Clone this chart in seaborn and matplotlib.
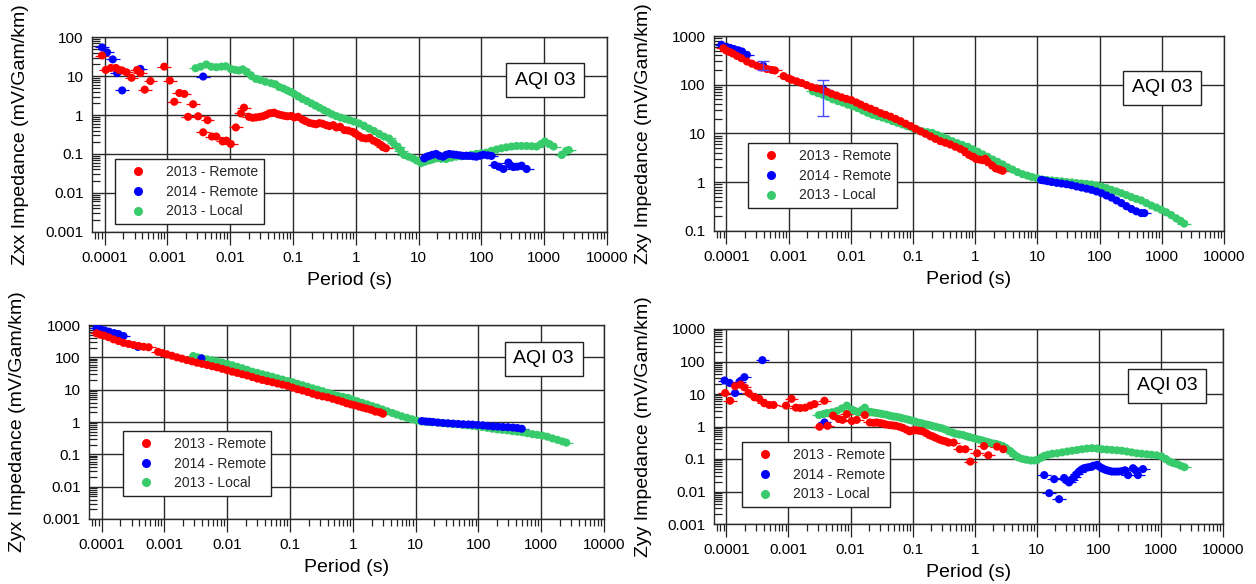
import numpy as np
import pandas as pd
import matplotlib
matplotlib.use("Agg")
import matplotlib.pyplot as plt
import seaborn as sns
from matplotlib.lines import Line2D
from matplotlib.ticker import FixedLocator, FixedFormatter, LogLocator, NullFormatter

# ---------------- data: (log10 period [s], impedance [mV/Gam/km]) ----------------
series_names = ["2013 - Remote", "2014 - Remote", "2013 - Local"]
series_colors = ["#ff0000", "#0000ff", "#38cb6b"]

zxx_red = [(-4.04, 34), (-3.98, 14.5), (-3.90, 16.3), (-3.82, 16.3), (-3.77, 14.5), (-3.72, 14),
           (-3.65, 12.6), (-3.57, 9.1), (-3.48, 14.5), (-3.43, 12), (-3.36, 4.5), (-3.27, 7.5),
           (-3.05, 17.6), (-2.96, 7.7), (-2.89, 2.2), (-2.81, 3.7), (-2.73, 3.5), (-2.67, 0.9),
           (-2.59, 1.9), (-2.51, 0.93), (-2.43, 0.36), (-2.36, 0.74), (-2.29, 0.28), (-2.22, 0.28),
           (-2.12, 0.21), (-2.06, 0.22), (-1.99, 0.18), (-1.91, 0.48), (-1.83, 1.1), (-1.78, 1.55),
           (-1.70, 0.9), (-1.64, 0.85), (-1.59, 0.87), (-1.53, 0.9), (-1.48, 0.93), (-1.43, 1.0),
           (-1.38, 1.1), (-1.34, 1.12), (-1.30, 1.15), (-1.24, 1.05), (-1.19, 1.0), (-1.14, 0.96),
           (-1.09, 0.93), (-1.03, 0.95), (-0.98, 0.87), (-0.92, 0.9), (-0.85, 0.77), (-0.80, 0.7),
           (-0.74, 0.63), (-0.68, 0.6), (-0.63, 0.58), (-0.58, 0.62), (-0.53, 0.6), (-0.47, 0.55),
           (-0.42, 0.52), (-0.36, 0.55), (-0.31, 0.48), (-0.25, 0.5), (-0.18, 0.41), (-0.12, 0.4),
           (-0.05, 0.37), (0.00, 0.33), (0.05, 0.29), (0.10, 0.26), (0.16, 0.25), (0.22, 0.26),
           (0.28, 0.22), (0.35, 0.195), (0.40, 0.17), (0.43, 0.15), (0.48, 0.14)]
zxx_blue = [(-4.04, 55), (-3.96, 41), (-3.87, 27), (-3.80, 12), (-3.72, 4.3), (-3.43, 15.4),
            (-2.43, 9.8),
            (1.09, 0.077), (1.13, 0.085), (1.17, 0.089), (1.22, 0.095), (1.28, 0.1), (1.33, 0.09),
            (1.39, 0.085), (1.44, 0.095), (1.49, 0.1), (1.55, 0.097), (1.60, 0.095), (1.66, 0.092),
            (1.71, 0.089), (1.76, 0.09), (1.81, 0.089), (1.87, 0.087), (1.92, 0.085), (1.98, 0.09),
            (2.03, 0.095), (2.10, 0.092), (2.16, 0.089), (2.21, 0.052), (2.28, 0.047), (2.35, 0.041),
            (2.43, 0.06), (2.47, 0.05), (2.51, 0.046), (2.57, 0.047), (2.64, 0.05), (2.72, 0.041)]
zxx_green = [(-2.55, 16), (-2.47, 17.6), (-2.38, 20), (-2.30, 17.5), (-2.22, 17), (-2.14, 17.6),
             (-2.07, 18), (-1.99, 15.4), (-1.92, 14.5), (-1.86, 14), (-1.80, 15), (-1.74, 13),
             (-1.67, 10.5), (-1.59, 8.5), (-1.52, 8), (-1.44, 7.2), (-1.35, 6.6), (-1.28, 6.2),
             (-1.22, 5.25), (-1.15, 4.8), (-1.09, 4.3), (-1.03, 3.9), (-0.98, 3.5), (-0.91, 3.0),
             (-0.85, 2.6), (-0.78, 2.3), (-0.71, 2.0), (-0.64, 1.75), (-0.58, 1.55), (-0.51, 1.35),
             (-0.45, 1.2), (-0.38, 1.05), (-0.31, 0.94), (-0.24, 0.86), (-0.17, 0.8), (-0.10, 0.74),
             (-0.03, 0.68), (0.05, 0.61), (0.13, 0.53), (0.21, 0.45), (0.29, 0.39), (0.37, 0.33),
             (0.45, 0.28), (0.53, 0.25), (0.60, 0.19), (0.67, 0.15), (0.72, 0.12), (0.77, 0.094),
             (0.84, 0.085), (0.91, 0.077), (0.97, 0.068), (1.04, 0.058), (1.10, 0.063), (1.17, 0.068),
             (1.22, 0.072), (1.28, 0.077), (1.36, 0.075), (1.44, 0.074), (1.52, 0.08), (1.60, 0.085),
             (1.68, 0.087), (1.76, 0.089), (1.84, 0.095), (1.92, 0.1), (2.00, 0.104), (2.08, 0.108),
             (2.16, 0.12), (2.24, 0.13), (2.32, 0.14), (2.40, 0.148), (2.48, 0.155), (2.56, 0.16),
             (2.64, 0.16), (2.72, 0.16), (2.80, 0.158), (2.88, 0.155), (2.95, 0.18), (3.01, 0.21),
             (3.08, 0.18), (3.15, 0.155), (3.28, 0.094), (3.35, 0.12), (3.39, 0.126)]

zxy_red = [(-4.05, 560), (-4.00, 500), (-3.95, 470), (-3.90, 440), (-3.83, 390), (-3.76, 350),
           (-3.67, 300), (-3.59, 270), (-3.51, 245), (-3.43, 225), (-3.35, 210), (-3.27, 200),
           (-3.22, 196), (-3.08, 150), (-3.00, 135), (-2.95, 126), (-2.87, 117), (-2.79, 108),
           (-2.71, 98), (-2.63, 89), (-2.55, 84), (-2.47, 79), (-2.39, 72), (-2.31, 65), (-2.23, 60),
           (-2.15, 55), (-2.07, 51), (-1.99, 48), (-1.91, 43), (-1.84, 39), (-1.76, 35), (-1.68, 32),
           (-1.60, 29), (-1.52, 26), (-1.44, 24), (-1.36, 22), (-1.28, 19.8), (-1.20, 17.8),
           (-1.12, 15.8), (-1.04, 14.1), (-0.96, 12.4), (-0.88, 11), (-0.80, 9.8), (-0.72, 8.7),
           (-0.64, 7.7), (-0.56, 6.9), (-0.48, 6.4), (-0.40, 5.9), (-0.32, 5.3), (-0.24, 4.8),
           (-0.17, 4.3), (-0.10, 3.6), (-0.03, 3.3), (0.01, 3.0), (0.06, 2.9), (0.12, 2.8),
           (0.16, 3.0), (0.20, 2.6), (0.27, 2.2), (0.33, 1.9), (0.39, 1.8), (0.44, 1.7)]
zxy_blue = [(-4.08, 660), (-4.00, 600), (-3.94, 570), (-3.88, 540), (-3.81, 510), (-3.75, 480),
            (-3.67, 410), (-3.41, 245), (-2.44, 80),
            (1.06, 1.1), (1.10, 1.08), (1.16, 1.04), (1.23, 1.0), (1.31, 0.96), (1.39, 0.93),
            (1.47, 0.9), (1.55, 0.86), (1.63, 0.81), (1.71, 0.77), (1.79, 0.73), (1.87, 0.69),
            (1.95, 0.64), (2.03, 0.59), (2.11, 0.53), (2.19, 0.48), (2.27, 0.42), (2.35, 0.37),
            (2.43, 0.32), (2.51, 0.28), (2.59, 0.25), (2.67, 0.23), (2.72, 0.23)]
zxy_blue_errbars = [(-3.41, 196, 300), (-2.44, 22.5, 126)]   # (log10 T, low, high)
zxy_green = [(-2.61, 73), (-2.53, 67), (-2.45, 62), (-2.37, 56), (-2.29, 50), (-2.21, 46),
             (-2.13, 43), (-2.05, 39), (-1.97, 36), (-1.89, 33), (-1.81, 29.5), (-1.73, 26.5),
             (-1.65, 24), (-1.57, 22.5), (-1.49, 21), (-1.41, 19.5), (-1.33, 17.8), (-1.25, 16.5),
             (-1.17, 15.2), (-1.09, 14), (-1.01, 12.9), (-0.93, 11.8), (-0.85, 11), (-0.77, 10.6),
             (-0.69, 10.2), (-0.61, 9.3), (-0.53, 8.5), (-0.45, 7.7), (-0.37, 6.9), (-0.29, 6.3),
             (-0.21, 5.8), (-0.12, 5.3), (-0.04, 4.7), (0.04, 4.2), (0.12, 3.7), (0.20, 3.3),
             (0.28, 2.9), (0.36, 2.6), (0.44, 2.3), (0.52, 2.0), (0.60, 1.8), (0.68, 1.6),
             (0.76, 1.45), (0.84, 1.35), (0.91, 1.27), (0.99, 1.2), (1.07, 1.13), (1.15, 1.1),
             (1.23, 1.08), (1.31, 1.05), (1.39, 1.03), (1.47, 1.0), (1.55, 0.98), (1.63, 0.95),
             (1.71, 0.93), (1.79, 0.91), (1.87, 0.89), (1.95, 0.85), (2.03, 0.81), (2.11, 0.75),
             (2.19, 0.69), (2.27, 0.64), (2.35, 0.59), (2.43, 0.54), (2.51, 0.49), (2.59, 0.45),
             (2.67, 0.42), (2.75, 0.37), (2.83, 0.33), (2.91, 0.30), (2.99, 0.27), (3.07, 0.24),
             (3.15, 0.21), (3.23, 0.18), (3.30, 0.16), (3.36, 0.14)]

zyx_red = [(-4.08, 550), (-4.02, 500), (-3.96, 470), (-3.89, 420), (-3.81, 360), (-3.73, 320),
           (-3.65, 280), (-3.57, 260), (-3.49, 240), (-3.41, 225), (-3.33, 212), (-3.25, 205),
           (-3.10, 148), (-3.03, 135), (-2.96, 124), (-2.88, 112), (-2.80, 100), (-2.72, 91),
           (-2.64, 82), (-2.56, 75), (-2.48, 68), (-2.40, 63), (-2.32, 58), (-2.24, 53), (-2.16, 49),
           (-2.08, 44), (-2.00, 40), (-1.92, 36), (-1.84, 33), (-1.76, 30), (-1.68, 27.5),
           (-1.60, 24.5), (-1.52, 22), (-1.44, 20), (-1.36, 18.4), (-1.28, 17), (-1.20, 15.5),
           (-1.12, 14.3), (-1.04, 13.2), (-0.96, 11.6), (-0.88, 10.3), (-0.80, 9.4), (-0.72, 8.5),
           (-0.64, 7.5), (-0.56, 6.7), (-0.48, 6.2), (-0.40, 5.8), (-0.32, 5.2), (-0.24, 4.7),
           (-0.17, 4.3), (-0.10, 3.8), (-0.03, 3.5), (0.03, 3.3), (0.10, 3.0), (0.16, 2.8),
           (0.22, 2.6), (0.29, 2.4), (0.36, 2.1), (0.43, 2.0), (0.48, 1.8)]
zyx_blue = [(-4.08, 780), (-4.02, 740), (-3.95, 680), (-3.88, 620), (-3.80, 560), (-3.73, 525),
            (-3.65, 455), (-3.42, 210), (-2.41, 93),
            (1.10, 1.07), (1.16, 1.04), (1.22, 1.02), (1.28, 1.0), (1.36, 0.96), (1.44, 0.93),
            (1.52, 0.91), (1.60, 0.89), (1.68, 0.87), (1.76, 0.85), (1.84, 0.84), (1.91, 0.83),
            (1.99, 0.81), (2.07, 0.79), (2.15, 0.76), (2.23, 0.73), (2.31, 0.72), (2.39, 0.70),
            (2.47, 0.69), (2.55, 0.67), (2.62, 0.65), (2.69, 0.62)]
zyx_green = [(-2.54, 110), (-2.47, 100), (-2.40, 93), (-2.32, 87), (-2.24, 82), (-2.16, 75),
             (-2.08, 69), (-2.00, 63), (-1.92, 57), (-1.84, 51), (-1.76, 46), (-1.68, 41),
             (-1.60, 36), (-1.52, 33), (-1.44, 30), (-1.36, 27.5), (-1.28, 25), (-1.20, 22.5),
             (-1.12, 20.5), (-1.04, 18.5), (-0.96, 17), (-0.88, 15.2), (-0.80, 13.7), (-0.72, 12.3),
             (-0.64, 11), (-0.56, 10), (-0.48, 9), (-0.40, 8), (-0.32, 7.2), (-0.24, 6.5),
             (-0.16, 6.0), (-0.08, 5.6), (-0.01, 5.0), (0.07, 4.4), (0.15, 3.9), (0.23, 3.5),
             (0.31, 3.1), (0.39, 2.8), (0.47, 2.45), (0.55, 2.15), (0.63, 1.9), (0.70, 1.7),
             (0.78, 1.5), (0.86, 1.35), (0.94, 1.22), (1.02, 1.1), (1.10, 1.03), (1.18, 1.0),
             (1.26, 0.98), (1.34, 0.96), (1.42, 0.93), (1.50, 0.9), (1.58, 0.87), (1.66, 0.85),
             (1.74, 0.82), (1.82, 0.79), (1.90, 0.76), (1.98, 0.73), (2.06, 0.7), (2.14, 0.66),
             (2.22, 0.62), (2.30, 0.59), (2.38, 0.57), (2.46, 0.55), (2.54, 0.52), (2.62, 0.5),
             (2.70, 0.48), (2.78, 0.45), (2.86, 0.42), (2.94, 0.4), (3.02, 0.38), (3.10, 0.35),
             (3.18, 0.31), (3.26, 0.28), (3.34, 0.25), (3.40, 0.23)]

zyy_red = [(-4.02, 10.7), (-3.94, 6.2), (-3.86, 17.4), (-3.77, 19.5), (-3.71, 16), (-3.64, 10.7),
           (-3.55, 7.9), (-3.47, 7.1), (-3.39, 5.2), (-3.31, 4.6), (-3.24, 4.6), (-3.04, 4.4),
           (-2.95, 7.1), (-2.88, 3.8), (-2.81, 3.7), (-2.73, 3.8), (-2.65, 4.4), (-2.58, 4.9),
           (-2.42, 6.2), (-2.50, 0.98), (-2.37, 1.05), (-2.28, 2.15), (-2.19, 1.7), (-2.13, 1.6),
           (-2.06, 2.4), (-1.98, 1.48), (-1.90, 1.6), (-1.77, 2.25), (-1.69, 1.33), (-1.63, 1.3),
           (-1.58, 1.33), (-1.53, 1.28), (-1.48, 1.23), (-1.43, 1.15), (-1.37, 1.1), (-1.32, 1.08),
           (-1.27, 1.05), (-1.21, 0.98), (-1.16, 0.91), (-1.10, 0.8), (-1.05, 0.71), (-1.00, 0.75),
           (-0.95, 0.77), (-0.90, 0.74), (-0.84, 0.71), (-0.78, 0.62), (-0.73, 0.54), (-0.68, 0.5),
           (-0.63, 0.45), (-0.57, 0.4), (-0.52, 0.37), (-0.47, 0.35), (-0.42, 0.32), (-0.34, 0.32),
           (-0.24, 0.2), (-0.15, 0.2), (-0.07, 0.083), (0.04, 0.15), (0.15, 0.25), (0.22, 0.13),
           (0.36, 0.24), (0.46, 0.2)]
zyy_blue = [(-4.03, 26), (-3.95, 22), (-3.86, 10.7), (-3.79, 23.7), (-3.71, 33), (-3.42, 110),
            (-2.42, 1.33),
            (1.12, 0.032), (1.20, 0.0089), (1.28, 0.024), (1.36, 0.0058), (1.44, 0.026),
            (1.48, 0.022), (1.52, 0.019), (1.56, 0.023), (1.60, 0.0275), (1.64, 0.034),
            (1.68, 0.041), (1.72, 0.047), (1.76, 0.052), (1.80, 0.054), (1.84, 0.056), (1.88, 0.057),
            (1.91, 0.062), (1.97, 0.066), (2.01, 0.058), (2.05, 0.052), (2.09, 0.048), (2.13, 0.045),
            (2.17, 0.043), (2.21, 0.041), (2.26, 0.041), (2.31, 0.041), (2.36, 0.042), (2.42, 0.045),
            (2.47, 0.032), (2.55, 0.052), (2.59, 0.045), (2.63, 0.032), (2.71, 0.049)]
zyy_green = [(-2.51, 2.25), (-2.44, 2.4), (-2.38, 2.6), (-2.30, 2.75), (-2.22, 3.0), (-2.14, 3.6),
             (-2.06, 4.4), (-1.98, 3.25), (-1.93, 3.0), (-1.88, 2.75), (-1.82, 3.2), (-1.77, 3.8),
             (-1.69, 2.75), (-1.63, 2.7), (-1.58, 2.6), (-1.53, 2.5), (-1.48, 2.4), (-1.42, 2.3),
             (-1.37, 2.15), (-1.32, 2.05), (-1.27, 2.0), (-1.21, 1.9), (-1.16, 1.78), (-1.10, 1.68),
             (-1.05, 1.58), (-1.00, 1.5), (-0.95, 1.4), (-0.89, 1.3), (-0.84, 1.23), (-0.78, 1.15),
             (-0.73, 1.1), (-0.68, 1.04), (-0.63, 0.98), (-0.57, 0.92), (-0.52, 0.87), (-0.47, 0.8),
             (-0.42, 0.71), (-0.36, 0.65), (-0.31, 0.6), (-0.25, 0.57), (-0.19, 0.55), (-0.13, 0.5),
             (-0.08, 0.47), (-0.02, 0.44), (0.03, 0.41), (0.08, 0.39), (0.13, 0.37), (0.19, 0.34),
             (0.24, 0.32), (0.30, 0.3), (0.35, 0.29), (0.40, 0.27), (0.45, 0.25), (0.50, 0.22),
             (0.56, 0.18), (0.61, 0.15), (0.66, 0.125), (0.71, 0.11), (0.77, 0.1), (0.83, 0.095),
             (0.90, 0.09), (0.96, 0.09), (1.01, 0.094), (1.07, 0.11), (1.12, 0.125), (1.18, 0.135),
             (1.25, 0.145), (1.33, 0.15), (1.41, 0.16), (1.49, 0.17), (1.57, 0.18), (1.65, 0.19),
             (1.73, 0.2), (1.81, 0.21), (1.89, 0.215), (1.97, 0.21), (2.05, 0.2), (2.13, 0.195),
             (2.21, 0.19), (2.29, 0.185), (2.37, 0.18), (2.45, 0.17), (2.53, 0.16), (2.61, 0.15),
             (2.69, 0.145), (2.77, 0.14), (2.85, 0.135), (2.93, 0.13), (3.01, 0.12), (3.08, 0.1),
             (3.14, 0.083), (3.20, 0.075), (3.26, 0.07), (3.32, 0.062), (3.38, 0.056)]

x_tick_values = [1e-4, 1e-3, 1e-2, 1e-1, 1, 10, 100, 1000, 10000]
x_tick_labels = ["0.0001", "0.001", "0.01", "0.1", "1", "10", "100", "1000", "10000"]
y_ticks_a = [0.001, 0.01, 0.1, 1, 10, 100]
y_labels_a = ["0.001", "0.01", "0.1", "1", "10", "100"]
y_ticks_b = [0.1, 1, 10, 100, 1000]
y_labels_b = ["0.1", "1", "10", "100", "1000"]
y_ticks_c = [0.001, 0.01, 0.1, 1, 10, 100, 1000]
y_labels_c = ["0.001", "0.01", "0.1", "1", "10", "100", "1000"]
station_label = "AQI 03"
x_label = "Period (s)"

# ---------------- assemble a tidy table ----------------
frames = []
panel_data = {
    "Zxx": (zxx_red, zxx_blue, zxx_green),
    "Zxy": (zxy_red, zxy_blue, zxy_green),
    "Zyx": (zyx_red, zyx_blue, zyx_green),
    "Zyy": (zyy_red, zyy_blue, zyy_green),
}
for comp, (red, blue, green) in panel_data.items():
    # draw order: local first, then 2014 remote, then 2013 remote on top
    for name, pts in [(series_names[2], green), (series_names[1], blue), (series_names[0], red)]:
        arr = np.array(pts, dtype=float)
        frames.append(pd.DataFrame({"component": comp, "series": name,
                                    "period": 10 ** arr[:, 0], "Z": arr[:, 1]}))
df = pd.concat(frames, ignore_index=True)

# ---------------- figure ----------------
sns.set_theme(style="white")
plt.rcParams["font.family"] = ["Liberation Sans", "DejaVu Sans"]

W, H = 1256, 584
fig = plt.figure(figsize=(W / 100, H / 100), dpi=100)
fig.patch.set_facecolor("white")


def px_axes(left, top, right, bottom):
    return fig.add_axes([left / W, 1 - bottom / H, (right - left) / W, (bottom - top) / H])


panels = [
    dict(comp="Zxx", box=(92, 37.3, 607, 231.7), ylim=(0.001, 100), yt=y_ticks_a, yl=y_labels_a,
         leg=(0.045, 0.04), aqi=(0.88, 0.78)),
    dict(comp="Zxy", box=(714, 36, 1224, 230.7), ylim=(0.1, 1000), yt=y_ticks_b, yl=y_labels_b,
         leg=(0.067, 0.117), aqi=(0.879, 0.733)),
    dict(comp="Zyx", box=(89, 325, 604, 519), ylim=(0.001, 1000), yt=y_ticks_c, yl=y_labels_c,
         leg=(0.066, 0.119), aqi=(0.883, 0.825)),
    dict(comp="Zyy", box=(714, 329, 1223, 524), ylim=(0.001, 1000), yt=y_ticks_c, yl=y_labels_c,
         leg=(0.055, 0.087), aqi=(0.89, 0.708)),
]

palette = dict(zip(series_names, series_colors))
spread = 10 ** 0.11

for p in panels:
    ax = px_axes(*p["box"])
    sub = df[df["component"] == p["comp"]]

    # horizontal error bars under the markers
    for name in [series_names[2], series_names[1], series_names[0]]:
        s = sub[sub["series"] == name]
        T = s["period"].to_numpy()
        ax.errorbar(T, s["Z"].to_numpy(), xerr=[T - T / spread, T * spread - T], fmt="none",
                    ecolor=palette[name], elinewidth=0.9, capsize=0, zorder=2)

    sns.scatterplot(data=sub, x="period", y="Z", hue="series", hue_order=series_names,
                    palette=palette, s=34, edgecolor="none", linewidth=0, legend=False,
                    ax=ax, zorder=3)

    if p["comp"] == "Zxy":
        eb = np.array(zxy_blue_errbars, dtype=float)
        Te = 10 ** eb[:, 0]
        mid = np.array([z for (lt, z) in zxy_blue if any(abs(lt - e) < 1e-9 for e in eb[:, 0])])
        ax.errorbar(Te, mid, yerr=[mid - eb[:, 1], eb[:, 2] - mid], fmt="none",
                    ecolor="#4a4aff", elinewidth=1.0, capsize=4.5, capthick=1.0, zorder=4)

    ax.set_xscale("log")
    ax.set_yscale("log")
    ax.set_xlim(10 ** -4.2, 1e4)
    ax.set_ylim(*p["ylim"])

    ax.xaxis.set_major_locator(FixedLocator(x_tick_values))
    ax.xaxis.set_major_formatter(FixedFormatter(x_tick_labels))
    ax.xaxis.set_minor_locator(LogLocator(base=10, subs=np.arange(2, 10), numticks=20))
    ax.xaxis.set_minor_formatter(NullFormatter())
    ax.yaxis.set_major_locator(FixedLocator(p["yt"]))
    ax.yaxis.set_major_formatter(FixedFormatter(p["yl"]))
    ax.yaxis.set_minor_locator(LogLocator(base=10, subs=np.arange(2, 10), numticks=20))
    ax.yaxis.set_minor_formatter(NullFormatter())

    ax.tick_params(axis="x", which="major", direction="out", length=9, width=0.9,
                   color="#222222", labelsize=11, pad=5, bottom=True, top=False)
    ax.tick_params(axis="x", which="minor", direction="out", length=5, width=0.9,
                   color="#222222", bottom=True, top=False)
    ax.tick_params(axis="y", which="major", direction="in", length=0, width=0.9,
                   color="#222222", labelsize=11, pad=6, left=True, right=False)
    ax.tick_params(axis="y", which="minor", direction="in", length=6, width=0.9,
                   color="#222222", left=True, right=False)
    for lab in ax.get_xticklabels() + ax.get_yticklabels():
        lab.set_color("black")

    ax.grid(True, which="major", color="#2a2a2a", linewidth=1.0)
    ax.grid(False, which="minor")
    for sp in ax.spines.values():
        sp.set_color("#2a2a2a")
        sp.set_linewidth(1.0)

    ax.set_xlabel(x_label, fontsize=14, color="black")
    ax.set_ylabel(f"{p['comp']} Impedance (mV/Gam/km)", fontsize=14, color="black")
    ax.xaxis.set_label_coords(0.5, -0.25)
    ax.xaxis.label.set_va("center")
    ax.yaxis.set_label_coords(-0.138, 0.5)
    ax.yaxis.label.set_va("center")

    handles = [Line2D([0], [0], marker="o", linestyle="none", markersize=6.5,
                      markerfacecolor=c, markeredgecolor="none") for c in series_colors]
    leg = ax.legend(handles, series_names, loc="lower left", bbox_to_anchor=p["leg"],
                    borderaxespad=0, fontsize=10, frameon=True, fancybox=False,
                    framealpha=1, edgecolor="#222222", borderpad=0.4, labelspacing=0.42,
                    handlelength=2.5, handletextpad=0.75)
    leg.get_frame().set_linewidth(1.0)
    leg.set_zorder(6)

    ax.text(p["aqi"][0], p["aqi"][1], station_label, transform=ax.transAxes, ha="center",
            va="center", fontsize=14, color="black", zorder=7,
            bbox=dict(boxstyle="square,pad=0.45", facecolor="white", edgecolor="#222222",
                      linewidth=1.0))

fig.savefig("out.png", dpi=100, facecolor="white")
